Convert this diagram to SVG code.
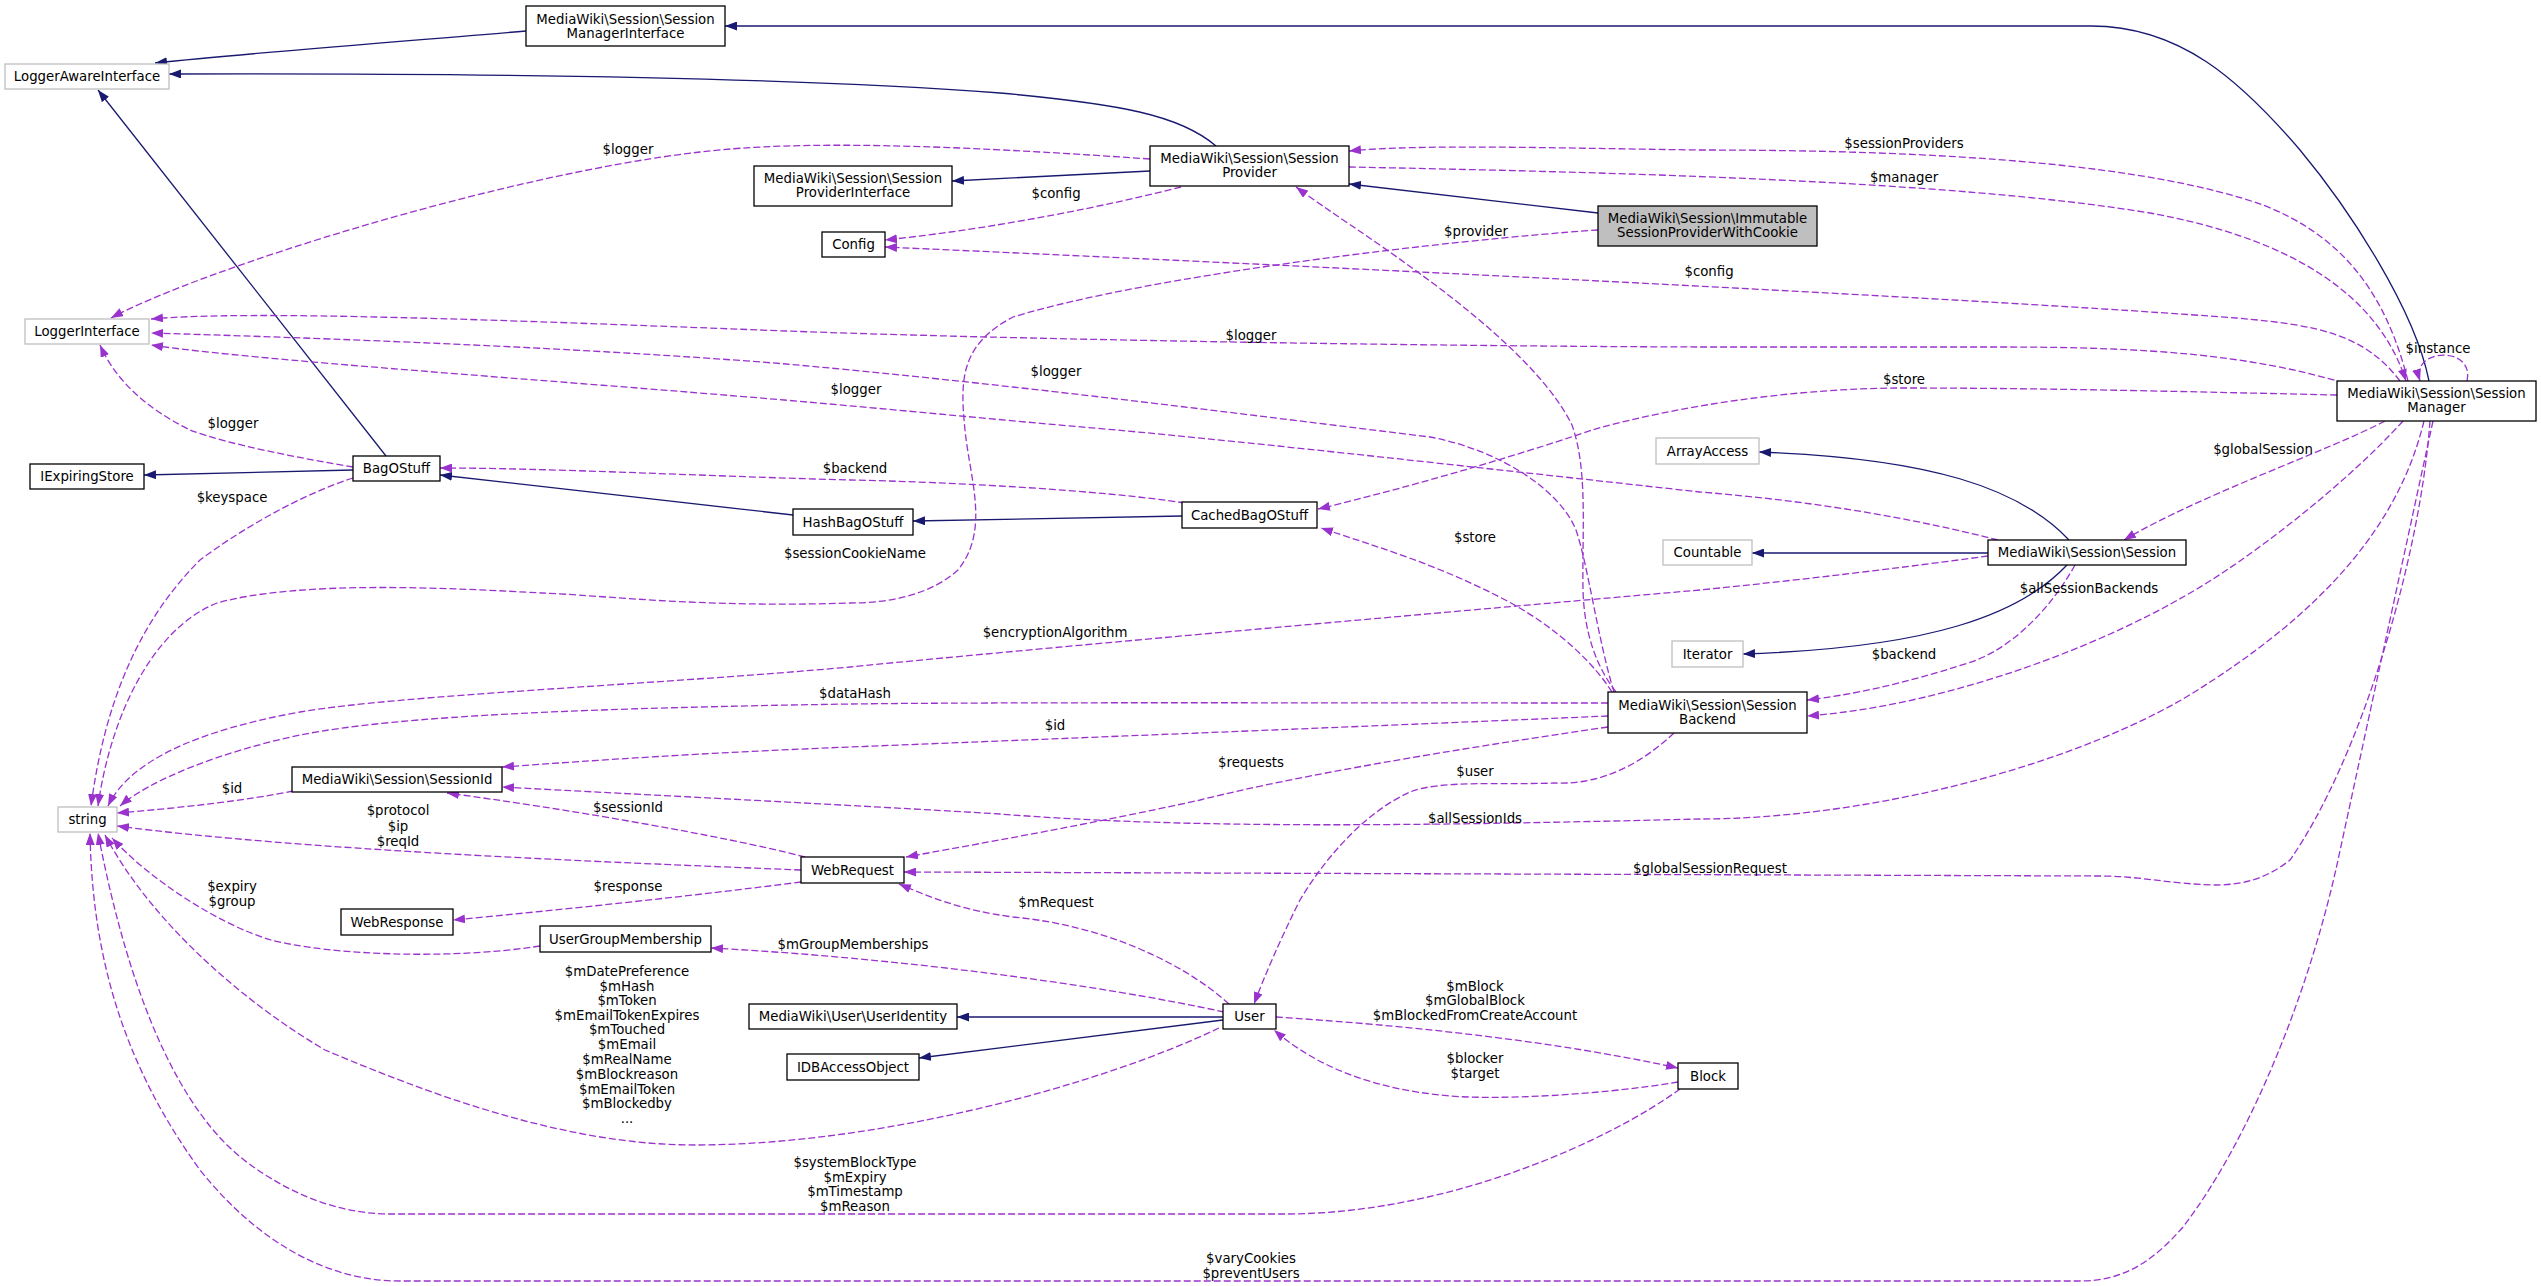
<svg xmlns="http://www.w3.org/2000/svg" width="2541" height="1286" viewBox="0 0 2541 1286">
<style>
text{font-family:"DejaVu Sans","Liberation Sans",sans-serif;font-size:13.3px;text-anchor:middle;fill:#000}
.n rect{fill:#fff;stroke:#000;stroke-width:1.3}
.x rect{fill:#fff;stroke:#bfbfbf;stroke-width:1.3}
.r rect{fill:#bfbfbf;stroke:#000;stroke-width:1.3}
.s{fill:none;stroke:#191970;stroke-width:1.3;marker-end:url(#ab)}
.d{fill:none;stroke:#9a32cd;stroke-width:1.3;stroke-dasharray:7,3;marker-end:url(#ap)}
</style>
<defs>
<marker id="ab" viewBox="0 0 12 9" refX="12" refY="4.5" markerWidth="12" markerHeight="9" markerUnits="userSpaceOnUse" orient="auto"><path d="M0,0L12,4.5L0,9z" fill="#191970"/></marker>
<marker id="ap" viewBox="0 0 12 9" refX="12" refY="4.5" markerWidth="12" markerHeight="9" markerUnits="userSpaceOnUse" orient="auto"><path d="M0,0L12,4.5L0,9z" fill="#9a32cd"/></marker>
</defs>
<rect width="2541" height="1286" fill="#fff"/>
<g id="connectors">
<path class="s" d="M2429,381 C2415,310 2350,210 2300,150 C2240,80 2180,26 2091,26 L725,26"/>
<path class="s" d="M526,31 C420,40 260,52 155,63"/>
<path class="s" d="M1216,146 C1180,115 1120,104 1000,93 C800,78 500,73 169,74"/>
<path class="s" d="M1150,171 L952,181"/>
<path class="s" d="M1598,213 L1349,184"/>
<path class="s" d="M386,456 L98,90"/>
<path class="s" d="M353,470 L144,475"/>
<path class="s" d="M793,515 L440,475"/>
<path class="s" d="M1182,516 L913,521"/>
<path class="s" d="M2069,540 C2020,488 1930,458 1759,452"/>
<path class="s" d="M1988,553 L1752,553"/>
<path class="s" d="M2067,565 C2020,615 1930,648 1743,654"/>
<path class="s" d="M1223,1017 L957,1017"/>
<path class="s" d="M1223,1020 L919,1058"/>

<path class="d" d="M1150,159 C950,145 800,140 700,152 C500,175 200,270 111,318"/>
<path class="d" d="M1181,187 C1110,205 1000,228 885,240"/>
<path class="d" d="M1349,167 C1600,172 1950,180 2150,213 C2300,240 2380,300 2406,381"/>
<path class="d" d="M2408,381 C2385,290 2340,235 2263,205 C2150,165 1950,150 1700,150 C1550,148 1420,144 1349,151"/>
<path class="d" d="M2400,381 C2365,335 2320,325 2236,318 C2000,300 1400,270 885,247"/>
<path class="d" d="M2344,383 C2250,355 2150,347 2000,347 L1700,347 C1400,346 1000,339 786,331 C500,320 250,310 151,319"/>
<path class="d" d="M2337,395 C2200,392 2050,388 1904,388 C1800,388 1680,405 1592,430 C1540,448 1420,485 1318,509"/>
<path class="d" d="M2467,381 C2475,345 2410,348 2420,381"/>
<path class="d" d="M2385,421 C2330,450 2200,495 2124,540"/>
<path class="d" d="M2403,421 C2350,480 2250,560 2183,597 C2100,645 1950,705 1807,716"/>
<path class="d" d="M2424,421 C2400,520 2330,610 2183,699 C2050,775 1850,819 1700,819 C1450,825 1200,830 1000,814 C850,805 650,795 502,787"/>
<path class="d" d="M2430,421 C2420,560 2360,760 2290,860 C2265,880 2240,885 2215,885 C2170,884 2140,876 2100,876 L904,872"/>
<path class="d" d="M2433,421 L2338,860 C2310,990 2250,1140 2183,1227 C2150,1265 2120,1281 2080,1281 L400,1281 C330,1281 260,1245 200,1170 C120,1060 92,950 90,833"/>
<path class="d" d="M1998,540 C1900,515 1800,500 1700,492 C1500,470 1250,442 1116,430 C1000,420 900,410 784,400 C550,380 250,360 151,345"/>
<path class="d" d="M2075,565 C2050,610 2010,650 1968,663 C1900,685 1850,695 1807,700"/>
<path class="d" d="M1988,556 C1900,568 1800,580 1700,590 C1400,616 1000,652 850,667 C650,685 400,695 300,712 C200,730 130,760 108,806"/>
<path class="d" d="M1614,692 C1598,640 1588,565 1576,530 C1560,490 1500,450 1430,437 C1250,415 1000,383 786,364 C550,345 250,336 151,333"/>
<path class="d" d="M1616,692 C1595,665 1584,630 1583,590 C1582,530 1588,470 1572,425 C1545,370 1470,310 1419,273 C1370,237 1330,212 1296,187"/>
<path class="d" d="M1612,692 C1595,665 1560,630 1511,603 C1440,565 1380,548 1321,528"/>
<path class="d" d="M1608,703 C1300,703 1000,702 850,704 C600,708 400,715 300,735 C220,752 150,780 120,806"/>
<path class="d" d="M1608,716 C1400,725 1100,737 850,747 C700,753 600,760 502,767"/>
<path class="d" d="M1608,727 C1450,750 1300,775 1200,800 C1100,822 1000,840 906,857"/>
<path class="d" d="M1674,733 C1640,765 1600,785 1555,783 C1500,785 1440,780 1410,792 C1370,810 1330,850 1300,900 C1280,940 1265,975 1254,1004"/>
<path class="d" d="M1185,503 C1100,490 950,482 850,480 C700,476 550,468 440,468"/>
<path class="d" d="M353,467 C300,458 230,445 190,430 C160,415 120,390 100,345"/>
<path class="d" d="M353,478 C300,495 240,530 200,560 C140,620 105,700 91,806"/>
<path class="d" d="M1598,230 C1450,240 1150,275 1013,317 C960,345 960,380 965,430 C970,480 990,530 958,570 C930,595 890,603 850,603 C700,608 600,595 542,593 C450,588 300,580 217,603 C150,630 110,720 98,806"/>
<path class="d" d="M293,791 C250,800 180,808 117,813"/>
<path class="d" d="M801,870 C600,862 300,850 117,826"/>
<path class="d" d="M805,857 C720,835 560,808 447,793"/>
<path class="d" d="M801,882 C700,895 560,910 453,920"/>
<path class="d" d="M1229,1004 C1180,960 1100,925 1013,917 C960,910 930,897 899,884"/>
<path class="d" d="M1224,1012 C1100,985 900,958 711,948"/>
<path class="d" d="M1219,1028 C1100,1085 880,1145 694,1145 C560,1145 420,1090 325,1050 C240,1000 150,920 105,835"/>
<path class="d" d="M1680,1089 C1610,1140 1450,1214 1284,1214 L390,1214 C340,1214 290,1195 244,1160 C180,1110 130,1000 98,833"/>
<path class="d" d="M540,946 C450,960 330,955 271,940 C220,925 150,880 112,838"/>
<path class="d" d="M1276,1017 C1400,1025 1550,1040 1678,1068"/>
<path class="d" d="M1678,1082 C1600,1095 1500,1100 1450,1096 C1380,1090 1320,1070 1274,1030"/>
</g>
<g id="labels">
<text x="628" y="154">$logger</text>
<text x="1056" y="198">$config</text>
<text x="1904" y="148">$sessionProviders</text>
<text x="1904" y="182">$manager</text>
<text x="1476" y="236">$provider</text>
<text x="1709" y="276">$config</text>
<text x="1251" y="340">$logger</text>
<text x="1056" y="376">$logger</text>
<text x="856" y="394">$logger</text>
<text x="1904" y="384">$store</text>
<text x="2438" y="353">$instance</text>
<text x="233" y="428">$logger</text>
<text x="2263" y="454">$globalSession</text>
<text x="855" y="473">$backend</text>
<text x="232" y="502">$keyspace</text>
<text x="1475" y="542">$store</text>
<text x="855" y="558">$sessionCookieName</text>
<text x="2089" y="593">$allSessionBackends</text>
<text x="1055" y="637">$encryptionAlgorithm</text>
<text x="1904" y="659">$backend</text>
<text x="855" y="698">$dataHash</text>
<text x="1055" y="730">$id</text>
<text x="1251" y="767">$requests</text>
<text x="1475" y="776">$user</text>
<text x="232" y="793">$id</text>
<text x="628" y="812">$sessionId</text>
<text x="398" y="815">$protocol</text>
<text x="398" y="831">$ip</text>
<text x="398" y="846">$reqId</text>
<text x="1475" y="823">$allSessionIds</text>
<text x="1710" y="873">$globalSessionRequest</text>
<text x="232" y="891">$expiry</text>
<text x="232" y="906">$group</text>
<text x="628" y="891">$response</text>
<text x="1056" y="907">$mRequest</text>
<text x="853" y="949">$mGroupMemberships</text>
<text x="627" y="976">$mDatePreference</text>
<text x="627" y="991">$mHash</text>
<text x="627" y="1005">$mToken</text>
<text x="627" y="1020">$mEmailTokenExpires</text>
<text x="627" y="1034">$mTouched</text>
<text x="627" y="1049">$mEmail</text>
<text x="627" y="1064">$mRealName</text>
<text x="627" y="1079">$mBlockreason</text>
<text x="627" y="1094">$mEmailToken</text>
<text x="627" y="1108">$mBlockedby</text>
<text x="627" y="1123">...</text>
<text x="1475" y="991">$mBlock</text>
<text x="1475" y="1005">$mGlobalBlock</text>
<text x="1475" y="1020">$mBlockedFromCreateAccount</text>
<text x="1475" y="1063">$blocker</text>
<text x="1475" y="1078">$target</text>
<text x="855" y="1167">$systemBlockType</text>
<text x="855" y="1182">$mExpiry</text>
<text x="855" y="1196">$mTimestamp</text>
<text x="855" y="1211">$mReason</text>
<text x="1251" y="1263">$varyCookies</text>
<text x="1251" y="1278">$preventUsers</text>
</g>
<g id="n_smi" class="n"><rect x="526" y="6" width="199" height="40"/><text x="625.5" y="24">MediaWiki\Session\Session</text><text x="625.5" y="38">ManagerInterface</text></g>
<g id="n_lai" class="x"><rect x="5" y="64" width="164" height="25"/><text x="87" y="81">LoggerAwareInterface</text></g>
<g id="n_sp" class="n"><rect x="1150" y="146" width="199" height="40"/><text x="1249.5" y="163">MediaWiki\Session\Session</text><text x="1249.5" y="177">Provider</text></g>
<g id="n_spi" class="n"><rect x="754" y="166" width="198" height="40"/><text x="853" y="183">MediaWiki\Session\Session</text><text x="853" y="197">ProviderInterface</text></g>
<g id="n_config" class="n"><rect x="822" y="232" width="63" height="25"/><text x="853.5" y="249">Config</text></g>
<g id="n_immutable" class="r"><rect x="1598" y="206" width="219" height="40"/><text x="1707.5" y="223">MediaWiki\Session\Immutable</text><text x="1707.5" y="237">SessionProviderWithCookie</text></g>
<g id="n_li" class="x"><rect x="25" y="319" width="124" height="25"/><text x="87" y="336">LoggerInterface</text></g>
<g id="n_sm" class="n"><rect x="2337" y="381" width="199" height="40"/><text x="2436.5" y="398">MediaWiki\Session\Session</text><text x="2436.5" y="412">Manager</text></g>
<g id="n_ies" class="n"><rect x="30" y="464" width="114" height="25"/><text x="87" y="481">IExpiringStore</text></g>
<g id="n_bag" class="n"><rect x="353" y="456" width="87" height="25"/><text x="396.5" y="473">BagOStuff</text></g>
<g id="n_hash" class="n"><rect x="793" y="509" width="120" height="26"/><text x="853" y="527">HashBagOStuff</text></g>
<g id="n_cached" class="n"><rect x="1182" y="502" width="135" height="26"/><text x="1249.5" y="520">CachedBagOStuff</text></g>
<g id="n_arrayaccess" class="x"><rect x="1656" y="438" width="103" height="26"/><text x="1707.5" y="456">ArrayAccess</text></g>
<g id="n_countable" class="x"><rect x="1663" y="540" width="89" height="25"/><text x="1707.5" y="557">Countable</text></g>
<g id="n_session" class="n"><rect x="1988" y="540" width="198" height="25"/><text x="2087" y="557">MediaWiki\Session\Session</text></g>
<g id="n_iterator" class="x"><rect x="1672" y="641" width="71" height="26"/><text x="1707.5" y="659">Iterator</text></g>
<g id="n_backend" class="n"><rect x="1608" y="692" width="199" height="41"/><text x="1707.5" y="710">MediaWiki\Session\Session</text><text x="1707.5" y="724">Backend</text></g>
<g id="n_sessionid" class="n"><rect x="292" y="767" width="210" height="25"/><text x="397" y="784">MediaWiki\Session\SessionId</text></g>
<g id="n_string" class="x"><rect x="58" y="807" width="59" height="25"/><text x="87.5" y="824">string</text></g>
<g id="n_webrequest" class="n"><rect x="801" y="857" width="103" height="26"/><text x="852.5" y="875">WebRequest</text></g>
<g id="n_webresponse" class="n"><rect x="341" y="909" width="112" height="26"/><text x="397" y="927">WebResponse</text></g>
<g id="n_ugm" class="n"><rect x="540" y="926" width="171" height="26"/><text x="625.5" y="944">UserGroupMembership</text></g>
<g id="n_useridentity" class="n"><rect x="749" y="1004" width="208" height="25"/><text x="853" y="1021">MediaWiki\User\UserIdentity</text></g>
<g id="n_idb" class="n"><rect x="787" y="1054" width="132" height="26"/><text x="853" y="1072">IDBAccessObject</text></g>
<g id="n_user" class="n"><rect x="1223" y="1004" width="53" height="25"/><text x="1249.5" y="1021">User</text></g>
<g id="n_block" class="n"><rect x="1678" y="1063" width="60" height="26"/><text x="1708" y="1081">Block</text></g>
</svg>
